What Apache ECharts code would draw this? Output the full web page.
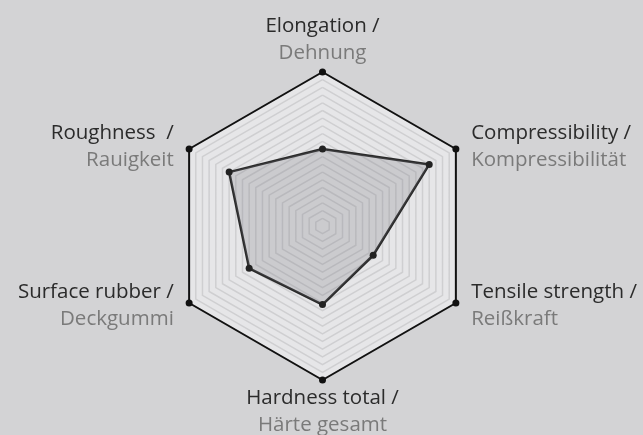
<!DOCTYPE html>
<html>
<head>
<meta charset="utf-8">
<script src="https://cdn.jsdelivr.net/npm/echarts@6/dist/echarts.min.js"></script>
<style>
html,body{margin:0;padding:0;background:#d3d3d5;}
#c{width:643px;height:435px;}
</style>
</head>
<body>
<div id="c"></div>
<script>
// Indicators in ECharts order (counter-clockwise from top)
const namesEn = ['Elongation /', 'Roughness  /', 'Surface rubber /', 'Hardness total /', 'Tensile strength /', 'Compressibility /'];
const namesDe = ['Dehnung', 'Rauigkeit', 'Deckgummi', 'Härte gesamt', 'Reißkraft', 'Kompressibilität'];
const maxValues = [100, 100, 100, 100, 100, 100];
const values = [50, 70, 55, 51, 38, 80];

const chart = echarts.init(document.getElementById('c'), null, {renderer: 'canvas'});
const indicator = namesEn.map((n, i) => ({name: n + '\n' + namesDe[i], max: maxValues[i]}));

chart.setOption({
  backgroundColor: '#d3d3d5',
  animation: false,
  radar: {
    center: [322.5, 226],
    radius: 154,
    startAngle: 90,
    splitNumber: 20,
    shape: 'polygon',
    indicator: indicator,
    nameGap: 5,
    axisName: {
      formatter: function (v) {
        const p = v.split('\n');
        return '{a|' + p[0] + '}\n{b|' + p[1] + '}';
      },
      rich: {
        a: {color: '#2b2b2b', fontSize: 20.5, fontFamily: 'Open Sans', lineHeight: 27, padding: [0, 11]},
        b: {color: '#7a7a7a', fontSize: 20.5, fontFamily: 'Open Sans', lineHeight: 27, padding: [0, 11]}
      }
    },
    axisLine: {show: false},
    axisTick: {show: false},
    axisLabel: {show: false},
    splitLine: {lineStyle: {color: '#cfcfd1', width: 1.5}},
    splitArea: {show: true, areaStyle: {color: ['#e6e6e8']}}
  },
  series: [
    {
      type: 'radar',
      silent: true,
      symbol: 'circle',
      symbolSize: 7,
      data: [{
        value: maxValues,
        lineStyle: {color: '#111', width: 2},
        itemStyle: {color: '#111'},
        areaStyle: {opacity: 0}
      }]
    },
    {
      type: 'radar',
      symbol: 'circle',
      symbolSize: 7,
      data: [{
        value: values,
        lineStyle: {color: '#2a2a2a', width: 2.5},
        itemStyle: {color: '#222'},
        areaStyle: {color: 'rgba(120,120,126,0.35)'}
      }]
    }
  ]
});
</script>
</body>
</html>
